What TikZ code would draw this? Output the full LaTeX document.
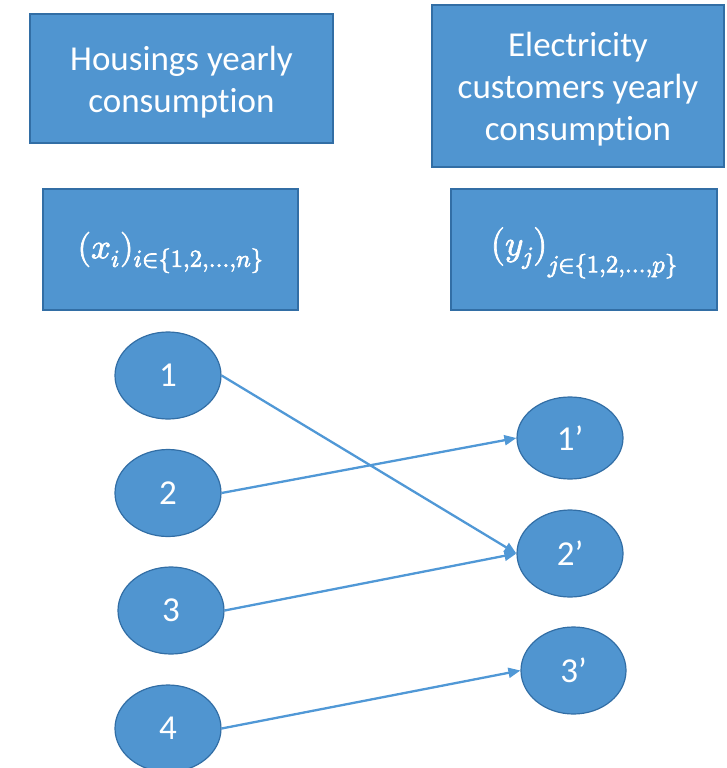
\documentclass[tikz,border=0pt]{standalone}
\usepackage{fontspec}
\usepackage{unicode-math}
\setmainfont[Ligatures=NoCommon,RawFeature=-liga]{Carlito}
\setmathfont{Latin Modern Math}
\usetikzlibrary{arrows.meta,shapes.geometric}
\definecolor{boxfill}{RGB}{80,149,208}
\definecolor{boxline}{RGB}{50,110,165}
\definecolor{arrowcol}{RGB}{80,152,214}
\newcommand{\heavytext}[1]{\special{pdf:literal direct 2 Tr 0.7 w 1 G}#1\special{pdf:literal direct 0 Tr}}
\newcommand{\lowered}[2]{\vbox{\vskip#1\hbox{#2}}}
\tikzset{
  bluebox/.style={draw=boxline, line width=1.2pt, fill=boxfill, text=white, inner sep=0pt},
  blueell/.style={ellipse, draw=boxline, line width=1.2pt, fill=boxfill, text=white, inner sep=0pt, font=\fontsize{35}{40}\selectfont},
  link/.style={draw=arrowcol, line width=2.3pt, -{Triangle[length=12pt,width=10pt]}}
}
\begin{document}
\begin{tikzpicture}[x=1pt,y=-1pt]
\useasboundingbox (0,0) rectangle (726,768);
\node[bluebox, minimum width=303pt, minimum height=129pt, font=\fontsize{35}{42}\selectfont] (hous) at (181.5,78.5) {\lowered{9pt}{\begin{tabular}{@{}c@{}}Housings yearly\\consumption\end{tabular}}};
\node[bluebox, minimum width=292pt, minimum height=162pt, font=\fontsize{35}{42}\selectfont] (elec) at (578,86) {\lowered{8pt}{\begin{tabular}{@{}c@{}}Electricity\\customers yearly\\consumption\end{tabular}}};
\node[bluebox, minimum width=255pt, minimum height=121pt, font=\fontsize{35}{40}\selectfont] (xs) at (170.5,249.5) {\lowered{6pt}{\heavytext{$(x_i)_{i\in\{1,2,\dots,n\}}$}}};
\node[bluebox, minimum width=266pt, minimum height=121pt, font=\fontsize{35}{40}\selectfont] (ys) at (584,249.5) {\lowered{5pt}{\heavytext{$\bigl(y_j\bigr)_{j\in\{1,2,\dots,p\}}$}}};
\node[blueell, minimum width=106pt, minimum height=87pt] (n1) at (168,375.5) {1};
\node[blueell, minimum width=106pt, minimum height=87pt] (n2) at (168,493) {2};
\node[blueell, minimum width=106pt, minimum height=87pt] (n3) at (171,610.5) {3};
\node[blueell, minimum width=106pt, minimum height=87pt] (n4) at (168,728.5) {4};
\node[blueell, minimum width=106pt, minimum height=82pt] (m1) at (570,438) {1’};
\node[blueell, minimum width=106pt, minimum height=87pt] (m2) at (570,553.5) {2’};
\node[blueell, minimum width=105pt, minimum height=87pt] (m3) at (573.5,670.5) {3’};
\draw[link] (n1.east) -- (m2.west);
\draw[link] (n2.east) -- (m1.west);
\draw[link] (n3.east) -- (m2.west);
\draw[link] (n4.east) -- (m3.west);
\end{tikzpicture}
\end{document}
